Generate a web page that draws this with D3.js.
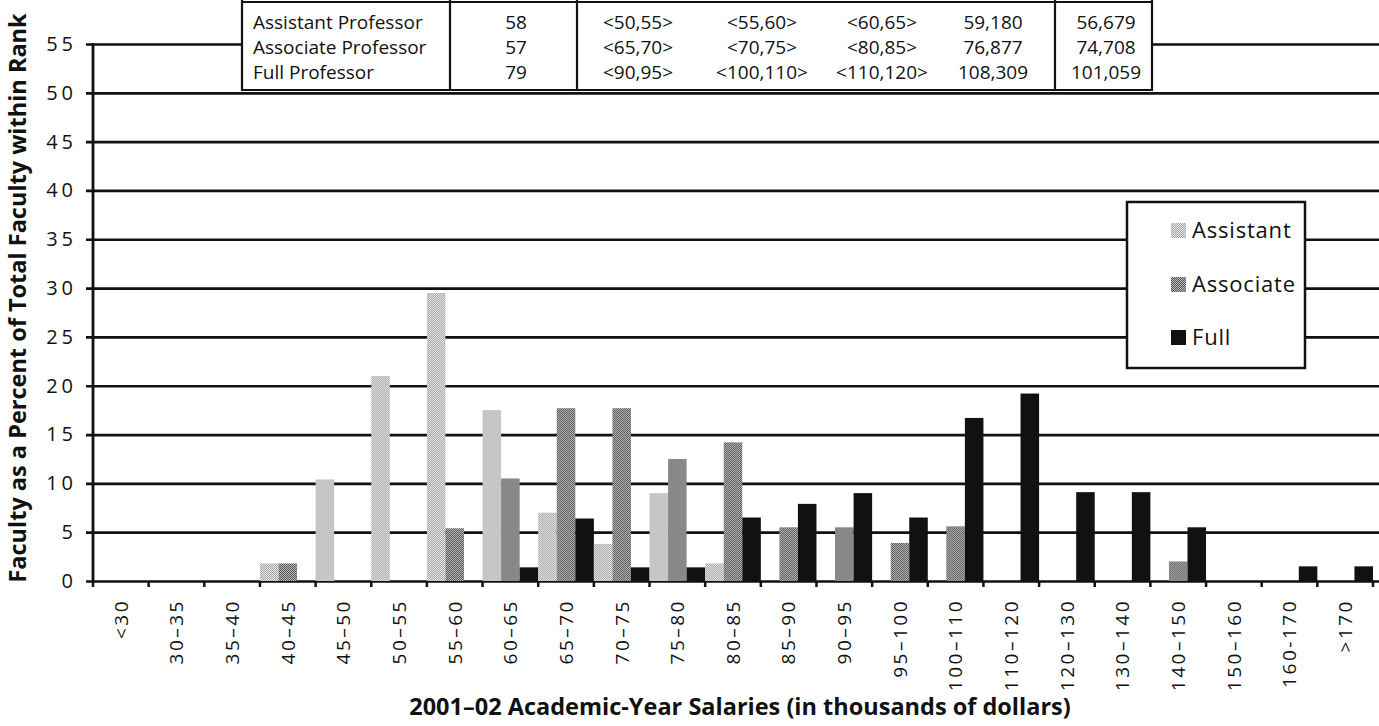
<!DOCTYPE html>
<html>
<head>
<meta charset="utf-8">
<script src="https://cdn.jsdelivr.net/npm/d3@7/dist/d3.min.js"></script>
<style>
  html, body { margin: 0; padding: 0; background: #fff; }
  svg { display: block; }
  text { font-family: "Open Sans", "DejaVu Sans", sans-serif; fill: #111; }
</style>
</head>
<body>
<svg id="chart" width="1379" height="726"></svg>
<script>
// Salary bands (thousands of dollars)
const categories = ["<30", "30–35", "35–40", "40–45", "45–50", "50–55", "55–60", "60–65",
  "65–70", "70–75", "75–80", "80–85", "85–90", "90–95", "95–100", "100–110",
  "110–120", "120–130", "130–140", "140–150", "150–160", "160-170", ">170"];

// Percent of faculty within each rank
const assistant = [0, 0, 0, 1.8, 10.4, 21.0, 29.5, 17.5, 7.0, 3.8, 9.0, 1.8,
  0, 0, 0, 0, 0, 0, 0, 0, 0, 0, 0];
const associate = [0, 0, 0, 1.8, 0, 0, 5.4, 10.5, 17.7, 17.7, 12.5, 14.2,
  5.5, 5.5, 3.9, 5.6, 0, 0, 0, 2.0, 0, 0, 0];
const full = [0, 0, 0, 0, 0, 0, 0, 1.4, 6.4, 1.4, 1.4, 6.5,
  7.9, 9.0, 6.5, 16.7, 19.2, 9.1, 9.1, 5.5, 0, 1.5, 1.5];

const seriesNames = ["Assistant", "Associate", "Full"];
const yTicks = [0, 5, 10, 15, 20, 25, 30, 35, 40, 45, 50, 55];

// Summary table rows
const tableRanks = ["Assistant Professor", "Associate Professor", "Full Professor"];
const tableCounts = ["58", "57", "79"];
const tableBand1 = ["<50,55>", "<65,70>", "<90,95>"];
const tableBand2 = ["<55,60>", "<70,75>", "<100,110>"];
const tableBand3 = ["<60,65>", "<80,85>", "<110,120>"];
const tableMean = ["59,180", "76,877", "108,309"];
const tableMedian = ["56,679", "74,708", "101,059"];

const svg = d3.select("#chart");
const W = 1379;
const plotLeft = 93, plotRight = 1373, plotTop = 44, plotBottom = 581;

// Fine dot patterns for the grey series
const defs = svg.append("defs");
function checker(id, light, dark) {
  const p = defs.append("pattern").attr("id", id)
    .attr("patternUnits", "userSpaceOnUse").attr("width", 2).attr("height", 2);
  p.append("rect").attr("width", 2).attr("height", 2).attr("fill", light);
  p.append("rect").attr("width", 1).attr("height", 1).attr("fill", dark);
  p.append("rect").attr("x", 1).attr("y", 1).attr("width", 1).attr("height", 1).attr("fill", dark);
}
checker("pat-assistant", "#e8e8e8", "#a4a4a4");
checker("pat-associate", "#bdbdbd", "#535353");
const fills = { Assistant: "url(#pat-assistant)", Associate: "url(#pat-associate)", Full: "#111" };

const x = d3.scaleBand().domain(categories).range([plotLeft, plotRight]).padding(0);
const xs = d3.scaleBand().domain(seriesNames).range([0, x.bandwidth()]).padding(0);
const y = d3.scaleLinear().domain([0, 55]).range([plotBottom, plotTop]);

// Horizontal gridlines with left labels
const gridX = 86;
const yAxis = svg.append("g").attr("transform", `translate(${gridX},0)`)
  .call(d3.axisLeft(y).tickValues(yTicks).tickSize(-(W - gridX)).tickPadding(9)
    .tickFormat(d => String(d)));
yAxis.select(".domain").remove();
yAxis.selectAll(".tick line").attr("stroke", "#111").attr("stroke-width", 2.7);
yAxis.selectAll(".tick text")
  .style("font-size", "20px").style("letter-spacing", "4px");

// Bars
const rows = categories.map((c, i) => ({ cat: c, Assistant: assistant[i], Associate: associate[i], Full: full[i] }));
const groups = svg.append("g").selectAll("g").data(rows).join("g")
  .attr("transform", d => `translate(${x(d.cat)},0)`);
groups.selectAll("rect")
  .data(d => seriesNames.map(s => ({ s, v: d[s] })).filter(e => e.v > 0))
  .join("rect")
  .attr("x", e => xs(e.s))
  .attr("width", xs.bandwidth())
  .attr("y", e => y(e.v))
  .attr("height", e => y(0) - y(e.v))
  .attr("fill", e => fills[e.s]);

// Vertical axis line
svg.append("line").attr("x1", plotLeft).attr("x2", plotLeft)
  .attr("y1", y(55) - 1).attr("y2", y(0) + 1)
  .attr("stroke", "#111").attr("stroke-width", 2.8);

// Category axis: labels at band centres, ticks at band edges
const xAxis = svg.append("g").attr("transform", `translate(0,${plotBottom})`)
  .call(d3.axisBottom(x).tickSize(0));
xAxis.select(".domain").remove();
xAxis.selectAll(".tick text")
  .attr("transform", "rotate(-90)")
  .attr("x", -18).attr("y", 0).attr("dy", "0.36em")
  .style("text-anchor", "end")
  .style("font-size", "19px").style("letter-spacing", "2.5px");
const edges = categories.map(c => x(c)).concat([x(categories[categories.length - 1]) + x.bandwidth()]);
svg.append("g").selectAll("line").data(edges).join("line")
  .attr("x1", d => d).attr("x2", d => d)
  .attr("y1", plotBottom).attr("y2", plotBottom + 6)
  .attr("stroke", "#111").attr("stroke-width", 2.5);

// Axis titles
svg.append("text")
  .attr("transform", `translate(26,298) rotate(-90)`)
  .attr("text-anchor", "middle")
  .style("font-size", "23.5px").style("font-weight", "bold")
  .text("Faculty as a Percent of Total Faculty within Rank");
svg.append("text")
  .attr("x", 740).attr("y", 715)
  .attr("text-anchor", "middle")
  .style("font-size", "23.5px").style("font-weight", "bold")
  .text("2001–02 Academic-Year Salaries (in thousands of dollars)");

// Summary table
const tbl = svg.append("g");
const tLeft = 242, tRight = 1152, tTop = 2, tBottom = 90;
tbl.append("rect").attr("x", tLeft).attr("y", -5).attr("width", tRight - tLeft).attr("height", tBottom + 5)
  .attr("fill", "#fff");
tbl.selectAll("line.h").data([tTop, tBottom]).join("line")
  .attr("x1", tLeft).attr("x2", tRight).attr("y1", d => d).attr("y2", d => d)
  .attr("stroke", "#111").attr("stroke-width", 2.2);
tbl.selectAll("line.v").data([tLeft, 450, 577, 1055, tRight]).join("line")
  .attr("x1", d => d).attr("x2", d => d).attr("y1", -5).attr("y2", tBottom + 1)
  .attr("stroke", "#111").attr("stroke-width", 2.2);
const rowY = [29, 54, 79];
const cols = [
  { vals: tableRanks, x: 253, anchor: "start" },
  { vals: tableCounts, x: 516, anchor: "middle" },
  { vals: tableBand1, x: 638, anchor: "middle" },
  { vals: tableBand2, x: 762, anchor: "middle" },
  { vals: tableBand3, x: 882, anchor: "middle" },
  { vals: tableMean, x: 993, anchor: "middle" },
  { vals: tableMedian, x: 1106, anchor: "middle" }
];
cols.forEach(col => {
  tbl.append("g").selectAll("text").data(col.vals).join("text")
    .attr("x", col.x).attr("y", (d, i) => rowY[i])
    .attr("text-anchor", col.anchor)
    .style("font-size", "19px")
    .text(d => d);
});

// Legend
const lg = svg.append("g");
lg.append("rect").attr("x", 1127).attr("y", 202).attr("width", 178).attr("height", 166)
  .attr("fill", "#fff").attr("stroke", "#111").attr("stroke-width", 2.5);
const legY = [238, 292, 345];
const li = lg.selectAll("g.item").data(seriesNames).join("g")
  .attr("transform", (d, i) => `translate(1171,${legY[i]})`);
li.append("rect").attr("x", 0).attr("y", -15).attr("width", 15).attr("height", 15)
  .attr("fill", d => fills[d]);
li.append("text").attr("x", 21).attr("y", 0)
  .style("font-size", "22px").style("letter-spacing", "0.8px")
  .text(d => d);
</script>
</body>
</html>
